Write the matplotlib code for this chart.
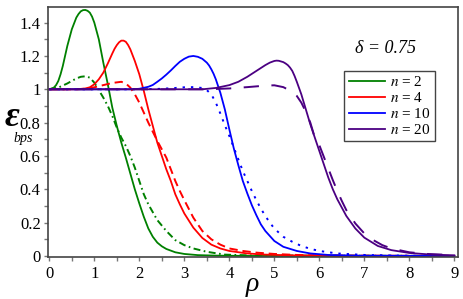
import matplotlib
matplotlib.use('Agg')
import matplotlib.pyplot as plt
from matplotlib.ticker import MultipleLocator

plt.rcParams['font.family'] = 'Liberation Serif'
plt.rcParams['mathtext.fontset'] = 'stix'
plt.rcParams['lines.scale_dashes'] = False

# n = 2
x2 = [0, 0.1, 0.15, 0.2, 0.25, 0.3, 0.4, 0.5, 0.6, 0.65, 0.7, 0.75, 0.8, 0.85, 0.9, 0.95,
      1.0, 1.1, 1.2, 1.3, 1.4, 1.5, 1.6, 1.7, 1.8, 1.9, 2.0, 2.1, 2.2, 2.3, 2.4, 2.5, 2.6,
      2.8, 3.0, 3.3, 3.7, 4.5, 9]
y2 = [1.0, 1.01, 1.025, 1.05, 1.09, 1.14, 1.26, 1.36, 1.43, 1.452, 1.468, 1.475, 1.476,
      1.471, 1.46, 1.436, 1.40, 1.30, 1.16, 1.03, 0.89, 0.78, 0.68, 0.59, 0.495, 0.40,
      0.315, 0.235, 0.165, 0.115, 0.08, 0.058, 0.042, 0.022, 0.012, 0.005, 0.002, 0, 0]
x2b = [0, 0.2, 0.4, 0.6, 0.7, 0.8, 0.9, 1.0, 1.1, 1.2, 1.3, 1.4, 1.5, 1.6, 1.7, 1.8, 1.9,
       2.0, 2.1, 2.2, 2.4, 2.6, 2.8, 3.0, 3.2, 3.5, 3.9, 4.5, 9]
y2b = [1, 1.01, 1.035, 1.065, 1.075, 1.078, 1.07, 1.04, 0.995, 0.95, 0.9, 0.84, 0.77, 0.71,
       0.66, 0.6, 0.53, 0.45, 0.37, 0.31, 0.215, 0.15, 0.095, 0.065, 0.045, 0.025, 0.008,
       0.003, 0]

# n = 4
x4 = [0, 0.6, 0.8, 0.9, 1.0, 1.1, 1.2, 1.3, 1.4, 1.45, 1.5, 1.55, 1.6, 1.65, 1.7, 1.75,
      1.8, 1.9, 2.0, 2.1, 2.2, 2.3, 2.4, 2.5, 2.6, 2.7, 2.8, 2.9, 3.0, 3.2, 3.4, 3.6, 3.8,
      4.0, 4.4, 4.8, 5.5, 6.5, 9]
y4 = [1, 1.0, 1.005, 1.012, 1.03, 1.06, 1.10, 1.155, 1.215, 1.243, 1.265, 1.282, 1.292,
      1.292, 1.285, 1.266, 1.24, 1.17, 1.09, 0.99, 0.88, 0.78, 0.68, 0.6, 0.52, 0.45, 0.37,
      0.31, 0.255, 0.17, 0.108, 0.068, 0.045, 0.03, 0.015, 0.008, 0.003, 0.001, 0]
x4b = [0, 0.6, 0.8, 1.0, 1.2, 1.4, 1.6, 1.7, 1.8, 1.9, 2.0, 2.1, 2.2, 2.3, 2.4, 2.5, 2.6,
       2.7, 2.8, 2.9, 3.0, 3.2, 3.4, 3.6, 3.8, 4.0, 4.3, 4.6, 5.0, 5.5, 6.5, 9]
y4b = [1, 1.0, 1.003, 1.012, 1.025, 1.038, 1.045, 1.035, 1.01, 0.97, 0.92, 0.86, 0.8, 0.745,
       0.69, 0.64, 0.59, 0.52, 0.45, 0.39, 0.335, 0.23, 0.15, 0.1, 0.068, 0.045, 0.03, 0.02,
       0.012, 0.006, 0.002, 0]

# n = 10
x10 = [0, 1.8, 2.0, 2.2, 2.3, 2.4, 2.5, 2.6, 2.7, 2.8, 2.9, 3.0, 3.1, 3.2, 3.3, 3.4, 3.5,
       3.55, 3.6, 3.65, 3.7, 3.8, 3.9, 4.0, 4.1, 4.2, 4.3, 4.4, 4.5, 4.6, 4.7, 4.8, 5.0,
       5.2, 5.5, 5.8, 6.2, 6.8, 9]
y10 = [1, 1.0, 1.003, 1.015, 1.026, 1.045, 1.065, 1.088, 1.113, 1.14, 1.165, 1.183, 1.196,
       1.20, 1.195, 1.183, 1.16, 1.143, 1.12, 1.093, 1.06, 0.98, 0.88, 0.76, 0.645, 0.545,
       0.45, 0.375, 0.305, 0.245, 0.19, 0.15, 0.09, 0.055, 0.03, 0.015, 0.006, 0.002, 0]
x10b = [0, 2.0, 2.5, 2.8, 3.0, 3.2, 3.4, 3.5, 3.6, 3.7, 3.8, 3.9, 4.0, 4.1, 4.2, 4.3, 4.4,
        4.5, 4.6, 4.7, 4.8, 4.9, 5.0, 5.2, 5.4, 5.6, 5.8, 6.0, 6.4, 7.0, 8, 9]
y10b = [1, 1.0, 1.003, 1.008, 1.012, 1.013, 1.008, 0.995, 0.97, 0.92, 0.855, 0.785, 0.72,
        0.65, 0.58, 0.51, 0.45, 0.39, 0.335, 0.285, 0.24, 0.2, 0.165, 0.115, 0.085, 0.06,
        0.043, 0.03, 0.015, 0.006, 0.001, 0]

# n = 20
x20 = [0, 3.4, 3.7, 4.0, 4.2, 4.4, 4.6, 4.8, 4.9, 5.0, 5.05, 5.1, 5.2, 5.25, 5.3, 5.35,
       5.4, 5.45, 5.5, 5.6, 5.7, 5.8, 5.9, 6.0, 6.1, 6.2, 6.3, 6.4, 6.6, 6.8, 7.0, 7.3, 7.6,
       8.0, 8.5, 9]
y20 = [1, 1.0, 1.008, 1.025, 1.045, 1.075, 1.11, 1.145, 1.16, 1.17, 1.172, 1.171, 1.163,
       1.155, 1.145, 1.13, 1.11, 1.08, 1.045, 0.97, 0.88, 0.79, 0.71, 0.63, 0.55, 0.47,
       0.40, 0.34, 0.24, 0.165, 0.11, 0.06, 0.035, 0.018, 0.008, 0.004]
x20b = [0, 3.5, 4.0, 4.4, 4.8, 5.0, 5.2, 5.4, 5.5, 5.6, 5.7, 5.8, 5.9, 6.0, 6.1, 6.2, 6.3,
        6.4, 6.5, 6.6, 6.8, 7.0, 7.2, 7.4, 7.6, 8.0, 8.4, 9]
y20b = [1, 1.0, 1.005, 1.013, 1.022, 1.024, 1.013, 0.985, 0.96, 0.92, 0.865, 0.80, 0.71,
        0.665, 0.595, 0.525, 0.455, 0.39, 0.33, 0.275, 0.195, 0.135, 0.095, 0.065, 0.045,
        0.022, 0.012, 0.005]

labels = ['2', '4', '10', '20']
colors = ['#008000', '#ff0000', '#0000ff', '#4b0082']
xticks = [0, 1, 2, 3, 4, 5, 6, 7, 8, 9]
yticks = [0, 0.2, 0.4, 0.6, 0.8, 1.0, 1.2, 1.4]
ylabels = ['0', '0.2', '0.4', '0.6', '0.8', '1', '1.2', '1.4']

fig = plt.figure(figsize=(4.63, 2.99), dpi=100)
ax = fig.add_axes([0.103, 0.1395, 0.887, 0.8361])

solid = [(x2, y2), (x4, y4), (x10, y10), (x20, y20)]
other = [(x2b, y2b, (0, (5, 2.5, 1.2, 2.5))),
         (x4b, y4b, (0, (6, 3.5))),
         (x10b, y10b, (0, (1.7, 4.3))),
         (x20b, y20b, (0, (11, 9)))]

for (xs, ys), (xo, yo, ls), c, lab in zip(solid, other, colors, labels):
    ax.plot(xo, yo, color=c, lw=1.4, linestyle=ls)
    ax.plot(xs, ys, color=c, lw=1.3, label='$n$ = ' + lab)

ax.set_xlim(-0.036, 9.09)
ax.set_ylim(-0.008, 1.492)
ax.set_xticks(xticks)
ax.set_yticks(yticks)
ax.set_yticklabels(ylabels)
ax.xaxis.set_minor_locator(MultipleLocator(0.5))
ax.yaxis.set_minor_locator(MultipleLocator(0.1))
ax.tick_params(which='both', direction='out', length=3, width=1, color='#777777',
               labelsize=12, pad=2)
ax.tick_params(axis='x', pad=3)
for s in ax.spines.values():
    s.set_color('#444444')
    s.set_linewidth(1.2)

leg = ax.legend(loc='upper left', bbox_to_anchor=(0.7216, 0.746), borderaxespad=0,
                fontsize=11, handlelength=2.4, handletextpad=0.3, labelspacing=0.12,
                borderpad=0.3, fancybox=False, framealpha=1)
leg.get_frame().set_edgecolor('#444444')
leg.get_frame().set_linewidth(1.0)

ax.text(0.823, 0.837, 'δ = 0.75', transform=ax.transAxes, ha='center', va='center',
        fontsize=13, fontstyle='italic')
ax.text(-0.088, 0.56, 'ε', transform=ax.transAxes, ha='center', va='center',
        fontsize=26, fontstyle='italic', fontweight='bold')
ax.text(-0.06, 0.475, 'bps', transform=ax.transAxes, ha='center', va='center',
        fontsize=10, fontstyle='italic')
ax.text(0.499, -0.11, 'ρ', transform=ax.transAxes, ha='center', va='center',
        fontsize=20, fontstyle='italic')

fig.savefig('out.png', dpi=100)
